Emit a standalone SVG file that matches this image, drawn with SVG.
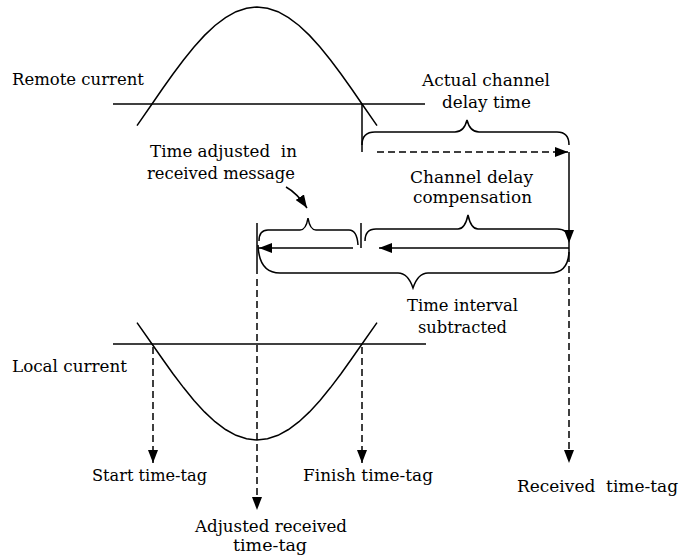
<svg xmlns="http://www.w3.org/2000/svg" width="680" height="560" viewBox="0 0 680 560">
  <style>
    .ln { fill: none; stroke: #000; stroke-width: 1.5; }
    .dash { fill: none; stroke: #000; stroke-width: 1.5; stroke-dasharray: 7 4; }
    .lbl { font-family: "DejaVu Serif", "Liberation Serif", serif; font-size: 17px; fill: #000; white-space: pre; }
  </style>
  <defs>
    <marker id="head" markerUnits="userSpaceOnUse" markerWidth="14" markerHeight="10" refX="13" refY="5" orient="auto">
      <path d="M0,0 L13,5 L0,10 z" fill="#000"/>
    </marker>
  </defs>
  <rect width="680" height="560" fill="#fff"/>

  <!-- remote current waveform with its zero axis -->
  <g id="remote-current">
    <line class="ln" x1="113" y1="104" x2="425" y2="104"/>
    <path class="ln" d="M137,125.6 L152,104 L162.5,88.8 L173,74 L183.5,60 L194,47 L204.5,35.4 L215,25.5 L225.5,17.6 L236,11.7 L246.5,8.2 L257,7 L267.5,8.2 L278,11.7 L288.5,17.6 L299,25.5 L309.5,35.4 L320,47 L330.5,60 L341,74 L351.5,88.8 L362,104 L377,125.6"/>
    <text class="lbl" x="12" y="85" textLength="132" lengthAdjust="spacingAndGlyphs">Remote current</text>
  </g>

  <!-- local current waveform with its zero axis -->
  <g id="local-current">
    <line class="ln" x1="113" y1="344" x2="426" y2="344"/>
    <path class="ln" d="M137,322.6 L152,344 L162.5,359 L173,373.7 L183.5,387.6 L194,400.4 L204.5,411.9 L215,421.7 L225.5,429.5 L236,435.3 L246.5,438.8 L257,440 L267.5,438.8 L278,435.3 L288.5,429.5 L299,421.7 L309.5,411.9 L320,400.4 L330.5,387.6 L341,373.7 L351.5,359 L362,344 L377,322.6"/>
    <text class="lbl" x="12" y="372" textLength="115" lengthAdjust="spacingAndGlyphs">Local current</text>
  </g>

  <!-- actual channel delay span -->
  <g id="actual-delay">
    <path class="ln" d="M362,145 Q362,132 375,132 L455,132 Q464,132 467,120 Q470,132 479,132 L557,132 Q569,132 569,145"/>
    <text class="lbl" x="422" y="86" textLength="128" lengthAdjust="spacingAndGlyphs">Actual channel</text>
    <text class="lbl" x="442" y="108" textLength="89" lengthAdjust="spacingAndGlyphs">delay time</text>
  </g>

  <!-- time adjusted in received message span -->
  <g id="time-adjusted">
    <path class="ln" d="M259,241 Q259,230 268,230 L300,230 Q306,230 308,218 Q310,230 316,230 L349,230 Q357,230 358,245"/>
    <text class="lbl" x="150" y="157" textLength="147" lengthAdjust="spacingAndGlyphs">Time adjusted  in</text>
    <text class="lbl" x="147" y="179" textLength="148" lengthAdjust="spacingAndGlyphs">received message</text>
  </g>

  <!-- channel delay compensation span -->
  <g id="compensation">
    <path class="ln" d="M365,241 Q365,229 376,229 L458,229 Q465,229 468,215 Q471,229 478,229 L557,229 Q568,229 569,239"/>
    <text class="lbl" x="410" y="183" textLength="123" lengthAdjust="spacingAndGlyphs">Channel delay</text>
    <text class="lbl" x="413" y="203" textLength="119" lengthAdjust="spacingAndGlyphs">compensation</text>
  </g>

  <!-- time interval subtracted span -->
  <g id="interval-subtracted">
    <path class="ln" d="M258,245 Q259,273 280,273 L398,273 Q408,273 413,288 Q418,273 428,273 L550,273 Q568,273 569,252"/>
    <text class="lbl" x="407" y="311" textLength="111" lengthAdjust="spacingAndGlyphs">Time interval</text>
    <text class="lbl" x="418" y="333" textLength="89" lengthAdjust="spacingAndGlyphs">subtracted</text>
  </g>

  <!-- time-tag labels -->
  <g id="start-tag">
    <text class="lbl" x="92" y="481" textLength="115" lengthAdjust="spacingAndGlyphs">Start time-tag</text>
  </g>
  <g id="finish-tag">
    <text class="lbl" x="303" y="481" textLength="130" lengthAdjust="spacingAndGlyphs">Finish time-tag</text>
  </g>
  <g id="received-tag">
    <text class="lbl" x="517" y="492" textLength="161" lengthAdjust="spacingAndGlyphs">Received  time-tag</text>
  </g>
  <g id="adjusted-tag">
    <text class="lbl" x="195" y="532" textLength="152" lengthAdjust="spacingAndGlyphs">Adjusted received</text>
    <text class="lbl" x="233" y="551" textLength="74" lengthAdjust="spacingAndGlyphs">time-tag</text>
  </g>

  <!-- connectors: markers, delay arrows and projections onto the time-tags -->
  <g id="connectors">
    <line class="ln" x1="362" y1="104" x2="362" y2="152"/>
    <line class="ln" x1="257" y1="223" x2="257" y2="274"/>
    <line class="ln" x1="361" y1="223" x2="361" y2="248"/>
    <line class="dash" x1="377" y1="152" x2="568" y2="152" marker-end="url(#head)"/>
    <line class="ln" x1="569" y1="152" x2="569" y2="243" marker-end="url(#head)"/>
    <line class="ln" x1="569" y1="243" x2="569" y2="262"/>
    <line class="ln" x1="569" y1="248" x2="379" y2="248" marker-end="url(#head)"/>
    <line class="ln" x1="353" y1="248" x2="259" y2="248" marker-end="url(#head)"/>
    <path class="ln" d="M286,187 Q297,193 307,208" marker-end="url(#head)"/>
    <line class="dash" x1="153" y1="347" x2="153" y2="463" marker-end="url(#head)"/>
    <line class="dash" x1="257" y1="279" x2="257" y2="510" marker-end="url(#head)"/>
    <line class="dash" x1="362" y1="347" x2="362" y2="463" marker-end="url(#head)"/>
    <line class="dash" x1="569" y1="266" x2="569" y2="463" marker-end="url(#head)"/>
  </g>
</svg>
